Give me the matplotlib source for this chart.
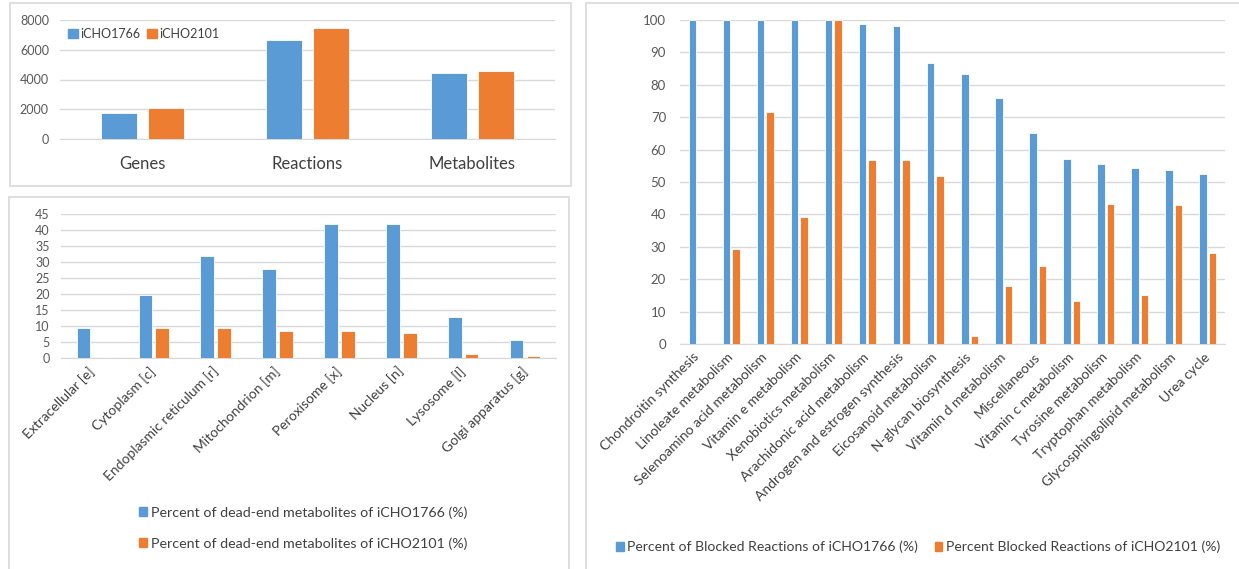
import numpy as np
import matplotlib.pyplot as plt
from matplotlib.patches import Patch, Rectangle

# model sizes
size_cats = ['Genes', 'Reactions', 'Metabolites']
size_1766 = [1766, 6663, 4430]
size_2101 = [2101, 7440, 4565]

# dead-end metabolites per compartment (%)
comp_cats = ['Extracellular [e]', 'Cytoplasm [c]', 'Endoplasmic reticulum [r]',
             'Mitochondrion [m]', 'Peroxisome [x]', 'Nucleus [n]', 'Lysosome [l]',
             'Golgi apparatus [g]']
dead_1766 = [9.3, 19.6, 31.9, 27.7, 41.9, 41.9, 12.8, 5.6]
dead_2101 = [0.4, 9.3, 9.5, 8.4, 8.4, 7.8, 1.3, 0.7]

# blocked reactions per subsystem (%)
path_cats = ['Chondroitin synthesis', 'Linoleate metabolism', 'Selenoamino acid metabolism',
             'Vitamin e metabolism', 'Xenobiotics metabolism', 'Arachidonic acid metabolism',
             'Androgen and estrogen synthesis', 'Eicosanoid metabolism',
             'N-glycan biosynthesis', 'Vitamin d metabolism', 'Miscellaneous',
             'Vitamin c metabolism', 'Tyrosine metabolism', 'Tryptophan metabolism',
             'Glycosphingolipid metabolism', 'Urea cycle']
blocked_1766 = [100, 100, 100, 100, 100, 98.8, 98.1, 86.8, 83.2, 76.0, 65.2, 57.1,
                55.7, 54.4, 53.8, 52.4]
blocked_2101 = [0, 29.3, 71.5, 39.2, 100, 56.8, 56.8, 51.9, 2.4, 18.0, 24.0, 13.2,
                43.1, 15.0, 42.8, 28.1]

BLUE = '#5B9BD5'
ORANGE = '#ED7D31'
GRID = '#D9D9D9'
TXT = '#595959'

plt.rcParams['font.family'] = ['Lato', 'DejaVu Sans']

W, H = 1239, 569
fig = plt.figure(figsize=(W / 100, H / 100), dpi=100)


def px(l, t, r, b):
    return [l / W, 1 - b / H, (r - l) / W, (b - t) / H]


def frame(l, t, r, b):
    fig.patches.append(Rectangle((l / W, 1 - b / H), (r - l) / W, (b - t) / H,
                                 transform=fig.transFigure, fill=False,
                                 edgecolor=GRID, lw=1.2))


def bars(ax, cats, a, b, width, off, ymax, step, fs):
    x = np.arange(len(cats))
    ax.bar(x - off, a, width, color=BLUE, edgecolor='white', lw=0.6, zorder=3)
    ax.bar(x + off, b, width, color=ORANGE, edgecolor='white', lw=0.6, zorder=3)
    ax.set_xlim(-0.5, len(cats) - 0.5)
    ax.set_ylim(0, ymax)
    ax.set_yticks(np.arange(0, ymax + 1, step))
    ax.yaxis.grid(True, color=GRID, lw=1)
    ax.set_axisbelow(True)
    for s in ['top', 'right', 'left']:
        ax.spines[s].set_visible(False)
    ax.spines['bottom'].set_color(GRID)
    ax.tick_params(length=0, labelsize=fs, labelcolor=TXT)
    ax.set_xticks(x)
    return x


frame(10, 3, 571, 186)
frame(9, 197, 569, 572)
frame(586, 3, 1242, 572)

# top left: model sizes
ax1 = fig.add_axes(px(60, 20, 555, 139))
bars(ax1, size_cats, size_1766, size_2101, 0.22, 0.144, 8000, 2000, 9)
ax1.set_xticklabels(size_cats, fontsize=12, color='#404040')
ax1.tick_params(axis='x', pad=12)
ax1.tick_params(axis='y', pad=8)
fig.legend(handles=[Patch(color=BLUE, label='iCHO1766'),
                    Patch(color=ORANGE, label='iCHO2101')],
           loc='center left', bbox_to_anchor=(57 / W, 1 - 34 / H), ncol=2,
           frameon=False, fontsize=9, handlelength=0.8, handleheight=0.8,
           handletextpad=0.2, columnspacing=0.5, labelcolor='#404040')

# bottom left: dead-end metabolites
ax2 = fig.add_axes(px(61, 214, 556, 358))
bars(ax2, comp_cats, dead_1766, dead_2101, 0.22, 0.137, 45, 5, 9)
ax2.set_xticklabels(comp_cats, rotation=45, ha='right', va='center',
                    rotation_mode='anchor', fontsize=10, color='#404040')
ax2.tick_params(axis='x', pad=8)
ax2.tick_params(axis='y', pad=8)
fig.legend(handles=[Patch(color=BLUE, label='Percent of dead-end metabolites of iCHO1766 (%)'),
                    Patch(color=ORANGE, label='Percent of dead-end metabolites of iCHO2101 (%)')],
           loc='center', bbox_to_anchor=(303 / W, 1 - 528 / H), ncol=1,
           frameon=False, fontsize=10.3, handlelength=0.55, handleheight=0.55,
           handletextpad=0.25, labelspacing=1.3, labelcolor='#404040')

# right: blocked reactions
ax3 = fig.add_axes(px(680, 20, 1225, 344))
bars(ax3, path_cats, blocked_1766, blocked_2101, 0.22, 0.14, 100, 10, 9.5)
ax3.set_xticklabels(path_cats, rotation=45, ha='right', va='center',
                    rotation_mode='anchor', fontsize=10, color='#404040')
ax3.tick_params(axis='x', pad=8)
ax3.tick_params(axis='y', pad=10)
fig.legend(handles=[Patch(color=BLUE, label='Percent of Blocked Reactions of iCHO1766 (%)'),
                    Patch(color=ORANGE, label='Percent Blocked Reactions of iCHO2101 (%)')],
           loc='center', bbox_to_anchor=(918 / W, 1 - 547 / H), ncol=2,
           frameon=False, fontsize=10.1, handlelength=0.55, handleheight=0.55,
           handletextpad=0.25, columnspacing=1.2, labelcolor='#404040')

fig.savefig('out.png', dpi=100)
